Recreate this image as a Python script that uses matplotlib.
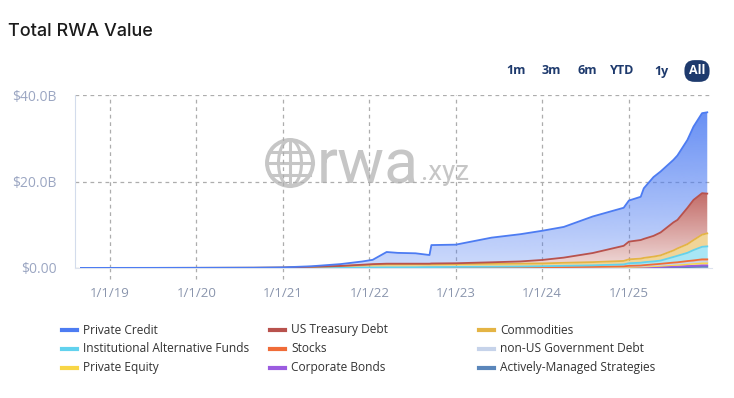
import numpy as np
import pandas as pd
import matplotlib
matplotlib.use('Agg')
import matplotlib.pyplot as plt
import matplotlib.dates as mdates
from matplotlib.colors import to_rgb
from matplotlib.patches import Ellipse
from matplotlib.lines import Line2D

plt.rcParams['font.family'] = ['Open Sans', 'DejaVu Sans']

# values in $B, individual (not cumulative) per asset class
dates = ['2018-09-01', '2019-06-01', '2020-01-01', '2020-09-01', '2021-01-01', '2021-05-01',
         '2021-09-01', '2021-12-01', '2022-01-15', '2022-03-15', '2022-05-01', '2022-07-15',
         '2022-09-12', '2022-09-20', '2023-01-01', '2023-06-01', '2023-10-01', '2024-01-01',
         '2024-04-01', '2024-08-01', '2024-12-10', '2025-01-01', '2025-02-20', '2025-03-05',
         '2025-04-15', '2025-05-15', '2025-07-08', '2025-07-25', '2025-09-05', '2025-10-01',
         '2025-11-06', '2025-11-28']

private_credit = [0, 0.01, 0.02, 0.03, 0.06, 0.12, 0.42, 0.75, 1.0, 2.7, 2.5, 2.4, 2.0, 4.25, 4.3, 5.7,
                  6.3, 6.75, 7.1, 8.45, 8.8, 9.5, 10.0, 11.7, 13.6, 14.1, 14.45, 14.9, 15.7, 16.95, 18.5, 18.8]
us_treasury = [0, 0, 0, 0, 0.01, 0.03, 0.05, 0.1, 0.12, 0.15, 0.15, 0.13, 0.15, 0.2, 0.2, 0.35,
               0.5, 0.8, 1.2, 2.1, 3.5, 4.1, 4.3, 4.4, 4.8, 5.3, 6.5, 6.6, 8.4, 9.3, 9.6, 9.2]
commodities = [0.01, 0.01, 0.02, 0.03, 0.05, 0.2, 0.35, 0.55, 0.65, 0.7, 0.7, 0.7, 0.65, 0.65, 0.65, 0.68,
               0.68, 0.65, 0.7, 0.75, 0.8, 0.9, 0.95, 1.0, 1.1, 1.2, 1.5, 1.7, 2.0, 2.3, 2.8, 3.0]
inst_alt_funds = [0.01, 0.01, 0.01, 0.02, 0.03, 0.05, 0.08, 0.1, 0.12, 0.15, 0.15, 0.15, 0.15, 0.15, 0.18, 0.2,
                  0.22, 0.25, 0.3, 0.35, 0.45, 0.6, 0.65, 0.68, 0.7, 0.75, 1.3, 1.5, 1.9, 2.4, 2.9, 3.0]
stocks = [0, 0, 0, 0, 0, 0, 0, 0, 0, 0, 0, 0, 0, 0, 0, 0,
          0, 0.01, 0.02, 0.03, 0.05, 0.1, 0.12, 0.15, 0.2, 0.25, 0.3, 0.32, 0.4, 0.45, 0.5, 0.5]
non_us_gov = [0, 0, 0, 0, 0, 0, 0, 0, 0, 0, 0, 0, 0, 0, 0.01, 0.02,
              0.03, 0.05, 0.06, 0.08, 0.1, 0.15, 0.15, 0.17, 0.2, 0.22, 0.25, 0.27, 0.3, 0.3, 0.35, 0.35]
private_equity = [0, 0, 0, 0, 0, 0, 0, 0, 0, 0, 0, 0, 0, 0, 0, 0,
                  0.01, 0.02, 0.03, 0.05, 0.08, 0.1, 0.12, 0.15, 0.2, 0.25, 0.35, 0.38, 0.45, 0.5, 0.55, 0.55]
corporate_bonds = [0, 0, 0, 0, 0, 0, 0, 0, 0, 0, 0, 0.02, 0.05, 0.05, 0.06, 0.07,
                   0.08, 0.08, 0.09, 0.1, 0.1, 0.1, 0.12, 0.12, 0.15, 0.15, 0.2, 0.2, 0.25, 0.25, 0.3, 0.3]
active_strategies = [0, 0, 0, 0, 0, 0, 0, 0, 0, 0, 0, 0, 0, 0, 0, 0,
                     0, 0, 0, 0, 0.05, 0.05, 0.06, 0.06, 0.08, 0.1, 0.15, 0.15, 0.2, 0.25, 0.3, 0.3]

series_names = ['Private Credit', 'US Treasury Debt', 'Commodities',
                'Institutional Alternative Funds', 'Stocks', 'non-US Government Debt',
                'Private Equity', 'Corporate Bonds', 'Actively-Managed Strategies']
series_values = [private_credit, us_treasury, commodities, inst_alt_funds, stocks,
                 non_us_gov, private_equity, corporate_bonds, active_strategies]
series_colors = ['#4d7cf2', '#b8524d', '#e4b444', '#62d2ee', '#f06c38', '#c6d3ea',
                 '#f8d646', '#9b5ce0', '#5a86ba']

year_ticks = ['2019-01-01', '2020-01-01', '2021-01-01', '2022-01-01', '2023-01-01', '2024-01-01', '2025-01-01']
year_labels = ['1/1/19', '1/1/20', '1/1/21', '1/1/22', '1/1/23', '1/1/24', '1/1/25']
y_ticks = [0, 20, 40]
y_labels = ['$0.00', '$20.0B', '$40.0B']
range_buttons = ['1m', '3m', '6m', 'YTD', '1y', 'All']


def gradient_fill(ax, x, lower, upper, color, top_alpha, bottom_alpha):
    poly = ax.fill_between(x, lower, upper, facecolor='none', edgecolor='none')
    grad = np.zeros((200, 1, 4))
    grad[:, 0, :3] = to_rgb(color)
    grad[:, 0, 3] = np.linspace(bottom_alpha, top_alpha, 200)
    im = ax.imshow(grad, extent=[x[0], x[-1], 0, max(upper.max(), 0.5)], origin='lower',
                   aspect='auto', interpolation='bilinear', zorder=2)
    im.set_clip_path(poly.get_paths()[0], transform=ax.transData)


W, H = 734, 398
fig = plt.figure(figsize=(W / 100, H / 100), dpi=100)
ax = fig.add_axes([75 / W, 1 - 268 / H, 637 / W, 173 / H])
ax.set_facecolor('none')

x = mdates.date2num(pd.to_datetime(dates))
vals = np.array(series_values)
# stack from the last legend entry upward
lower = np.zeros(len(x))
for i in range(len(series_names) - 1, -1, -1):
    upper = lower + vals[i]
    if i == 0:
        gradient_fill(ax, x, lower, upper, series_colors[i], 0.85, 0.28)
    elif i == 1:
        gradient_fill(ax, x, lower, upper, series_colors[i], 0.85, 0.2)
    else:
        ax.fill_between(x, lower, upper, color=series_colors[i], alpha=0.55, lw=0, zorder=2)
    ax.plot(x, upper, color=series_colors[i], lw=1.3, zorder=3)
    lower = upper

xt = mdates.date2num(pd.to_datetime(year_ticks))
ax.set_xlim(mdates.date2num(pd.Timestamp('2018-08-07')), mdates.date2num(pd.Timestamp('2025-12-18')))
ax.set_ylim(0, 40)
ax.set_xticks(xt)
ax.set_xticklabels(year_labels)
ax.set_yticks(y_ticks)
ax.set_yticklabels(y_labels)
ax.tick_params(axis='x', length=0, pad=14, labelcolor='#8a95ad', labelsize=9.5)
ax.tick_params(axis='y', length=0, pad=13, labelcolor='#9ba6c2', labelsize=10)
ax.grid(True, color='#adadad', lw=0.9, ls=(0, (3, 3)), zorder=1)
for t in xt:
    ax.plot([t, t], [0, -0.065], transform=ax.get_xaxis_transform(), color='#adadad',
            lw=0.9, ls=(0, (3, 3)), clip_on=False)
for s in ['top', 'right']:
    ax.spines[s].set_visible(False)
ax.spines['left'].set_color('#d3dcec')
ax.spines['bottom'].set_color('#dde3ee')

# watermark (drawn under the transparent axes)
wm = '#c6c6c6'
gx, gy, r = 290 / W, 1 - 163 / H, 23
fig.add_artist(Ellipse((gx, gy), 2 * r / W, 2 * r / H, transform=fig.transFigure,
                       fill=False, ec=wm, lw=2.8, zorder=-1))
fig.add_artist(Ellipse((gx, gy), r / W, 2 * r / H, transform=fig.transFigure,
                       fill=False, ec=wm, lw=2.2, zorder=-1))
fig.add_artist(Line2D([gx, gx], [gy - r / H, gy + r / H], transform=fig.transFigure,
                      color=wm, lw=2.2, zorder=-1))
for dy in [-0.5, 0, 0.5]:
    half = np.sqrt(1 - dy ** 2) * r
    fig.add_artist(Line2D([gx - half / W, gx + half / W], [gy + dy * r / H] * 2,
                          transform=fig.transFigure, color=wm, lw=2.2, zorder=-1))
fig.text(317 / W, 1 - 183 / H, 'rwa', fontsize=45, color=wm, family='Roboto',
         va='baseline', zorder=-1)
fig.text(421 / W, 1 - 180 / H, '.xyz', fontsize=20, color=wm, family='Roboto',
         va='baseline', zorder=-1)

fig.text(8 / W, 1 - 32 / H, 'Total RWA Value', fontsize=13, fontweight='medium',
         family=['Inter', 'DejaVu Sans'], color='#1b1b1b', va='center')

# range buttons
navy = '#1e3a6d'
btn_x = [516, 551, 587, 622, 661, 697]
for bx, lab in zip(btn_x, range_buttons):
    if lab == 'All':
        fig.text(bx / W, 1 - 71 / H, lab, fontsize=9, fontweight='bold', color='white',
                 ha='center', va='center',
                 bbox=dict(boxstyle='round,pad=0.35,rounding_size=0.8', fc=navy, ec='none'))
    else:
        fig.text(bx / W, 1 - 71 / H, lab, fontsize=9, fontweight='bold', color=navy,
                 ha='center', va='center')

# legend
col_x = [62, 270, 479]
row_y = [330, 349, 368]
for i, (name, c) in enumerate(zip(series_names, series_colors)):
    cx, ry = col_x[i % 3], row_y[i // 3]
    fig.add_artist(Line2D([cx / W, (cx + 15) / W], [1 - ry / H] * 2, transform=fig.transFigure,
                          color=c, lw=3))
    fig.text((cx + 21) / W, 1 - ry / H, name, fontsize=8.6, color='#333333', va='center')

fig.savefig('out.png', dpi=100)
